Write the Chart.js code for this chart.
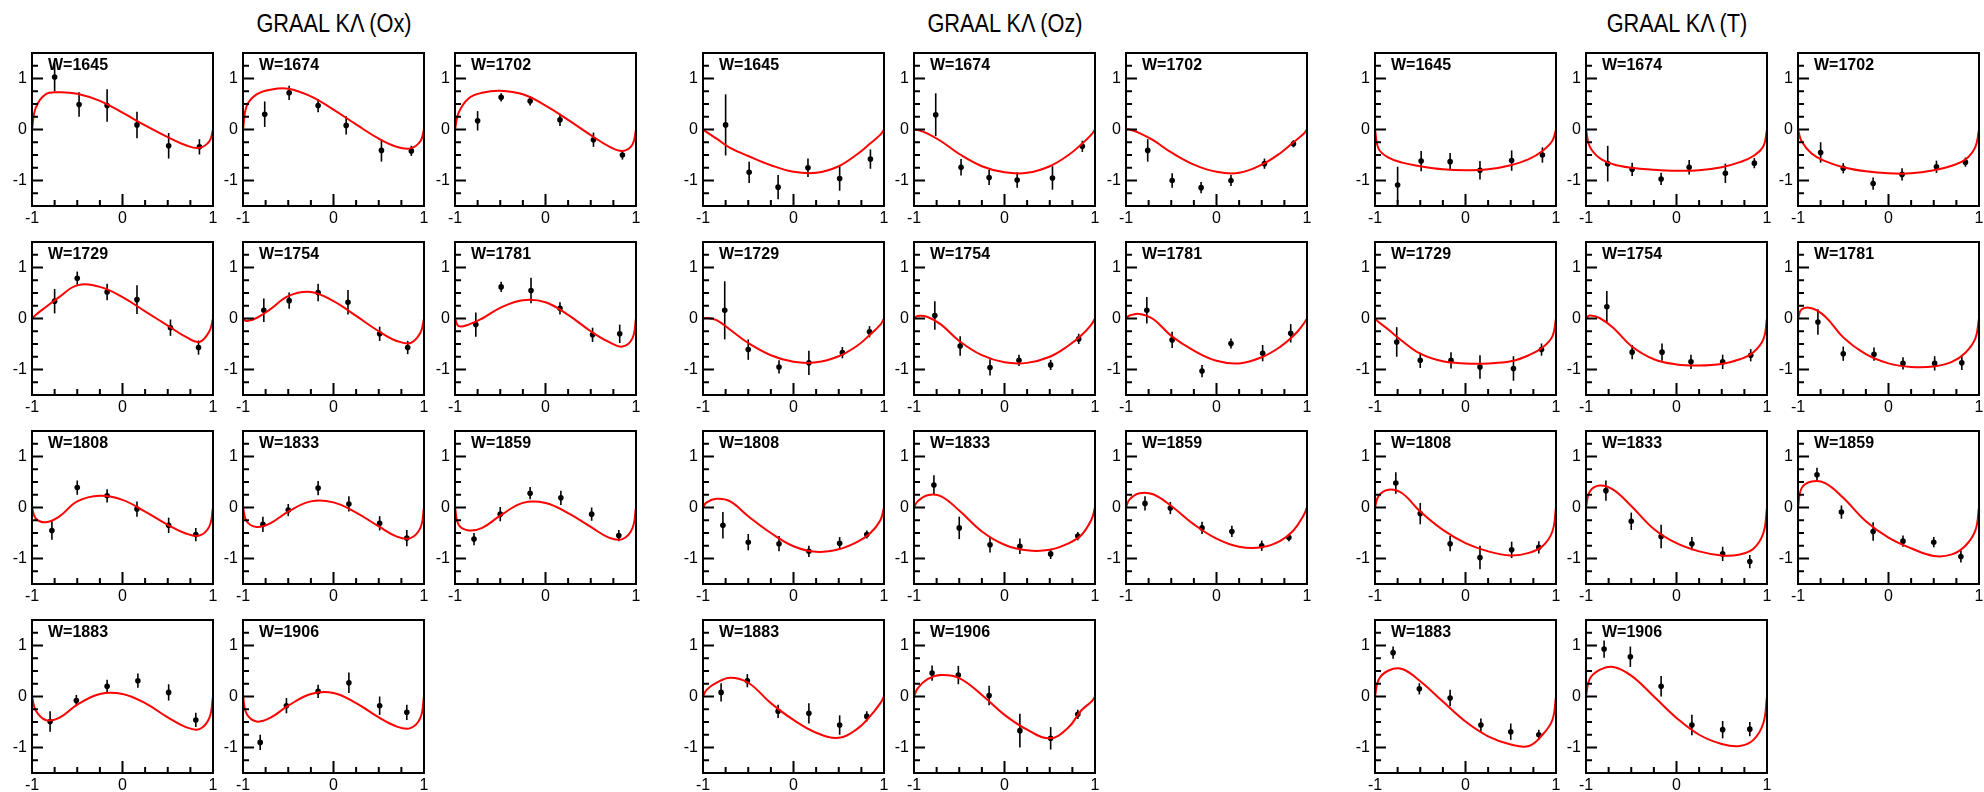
<!DOCTYPE html>
<html>
<head>
<meta charset="utf-8">
<script src="https://cdn.jsdelivr.net/npm/chart.js@4.4.1/dist/chart.umd.min.js"></script>
<style>
  body { margin: 0; background: #fff; }
  #page { position: relative; width: 1984px; height: 792px; overflow: hidden; }
  .title { position: absolute; top: 11px; font: 25px "Liberation Sans", Arial, sans-serif; line-height: 25px;
           white-space: nowrap; color: #000; transform: translateX(-50%) scaleX(0.87); }
  canvas { position: absolute; }
</style>
</head>
<body>
<div id="page"></div>
<script>
const W_BINS = [1645, 1674, 1702, 1729, 1754, 1781, 1808, 1833, 1859, 1883, 1906];
const TITLES = ['GRAAL K\u039B (Ox)', 'GRAAL K\u039B (Oz)', 'GRAAL K\u039B (T)'];
const X_TICKS = [-1, 0, 1];
const Y_TICKS = [-1, 0, 1];
const FIT_X = [-1, -0.96, -0.85, -0.7, -0.5, -0.25, 0, 0.25, 0.5, 0.7, 0.85, 0.96, 1];

// ---- Ox ----
const OX_X = [
  [-0.75, -0.48, -0.17, 0.16, 0.51, 0.85],
  [-0.76, -0.49, -0.17, 0.14, 0.53, 0.86],
  [-0.75, -0.49, -0.17, 0.16, 0.53, 0.85],
  [-0.75, -0.50, -0.17, 0.16, 0.53, 0.84],
  [-0.77, -0.49, -0.17, 0.16, 0.51, 0.82],
  [-0.77, -0.49, -0.16, 0.16, 0.52, 0.82],
  [-0.78, -0.50, -0.17, 0.16, 0.51, 0.81],
  [-0.78, -0.50, -0.17, 0.17, 0.51, 0.81],
  [-0.79, -0.50, -0.17, 0.17, 0.51, 0.81],
  [-0.80, -0.51, -0.17, 0.17, 0.51, 0.81],
  [-0.81, -0.52, -0.17, 0.17, 0.51, 0.81]
];
const OX_Y = [
  [1.03, 0.49, 0.47, 0.09, -0.32, -0.34],
  [0.30, 0.72, 0.47, 0.08, -0.41, -0.42],
  [0.17, 0.63, 0.56, 0.19, -0.20, -0.50],
  [0.34, 0.79, 0.52, 0.37, -0.18, -0.57],
  [0.16, 0.35, 0.51, 0.32, -0.30, -0.57],
  [-0.12, 0.62, 0.55, 0.20, -0.32, -0.30],
  [-0.45, 0.39, 0.23, -0.03, -0.35, -0.53],
  [-0.33, -0.05, 0.38, 0.07, -0.31, -0.60],
  [-0.62, -0.13, 0.28, 0.19, -0.13, -0.55],
  [-0.49, -0.08, 0.20, 0.31, 0.08, -0.46],
  [-0.90, -0.18, 0.10, 0.27, -0.18, -0.31]
];
const OX_ERR = [
  [0.28, 0.24, 0.32, 0.26, 0.25, 0.15],
  [0.25, 0.14, 0.13, 0.18, 0.22, 0.10],
  [0.19, 0.08, 0.09, 0.12, 0.14, 0.09],
  [0.24, 0.13, 0.16, 0.28, 0.16, 0.14],
  [0.23, 0.16, 0.17, 0.24, 0.14, 0.13],
  [0.24, 0.10, 0.25, 0.12, 0.14, 0.18],
  [0.18, 0.14, 0.13, 0.15, 0.15, 0.13],
  [0.15, 0.12, 0.14, 0.15, 0.14, 0.16],
  [0.12, 0.14, 0.12, 0.14, 0.13, 0.11],
  [0.20, 0.11, 0.13, 0.14, 0.16, 0.14],
  [0.15, 0.15, 0.13, 0.20, 0.18, 0.15]
];
const OX_FIT = [
  [0, 0.42, 0.69, 0.73, 0.70, 0.56, 0.33, 0.08, -0.15, -0.31, -0.36, -0.23, 0],
  [0, 0.46, 0.69, 0.78, 0.80, 0.65, 0.39, 0.10, -0.18, -0.34, -0.37, -0.23, 0],
  [0, 0.33, 0.61, 0.72, 0.76, 0.69, 0.47, 0.19, -0.11, -0.33, -0.42, -0.30, 0],
  [0, 0.07, 0.22, 0.42, 0.65, 0.62, 0.42, 0.14, -0.14, -0.36, -0.46, -0.25, 0],
  [0, -0.05, 0.01, 0.18, 0.44, 0.52, 0.34, 0.05, -0.25, -0.44, -0.48, -0.28, 0],
  [0, -0.15, -0.12, 0, 0.21, 0.36, 0.32, 0.07, -0.25, -0.46, -0.55, -0.39, 0],
  [0, -0.21, -0.29, -0.18, 0.12, 0.23, 0.15, -0.08, -0.34, -0.51, -0.55, -0.37, 0],
  [0, -0.27, -0.38, -0.31, -0.08, 0.12, 0.10, -0.10, -0.37, -0.57, -0.60, -0.40, 0],
  [0, -0.34, -0.45, -0.40, -0.16, 0.09, 0.09, -0.11, -0.38, -0.59, -0.62, -0.41, 0],
  [0, -0.27, -0.46, -0.42, -0.16, 0.05, 0.05, -0.13, -0.41, -0.60, -0.64, -0.42, 0],
  [0, -0.34, -0.49, -0.42, -0.18, 0.05, 0.07, -0.13, -0.41, -0.59, -0.62, -0.42, 0]
];

// ---- Oz ----
const OZ_X = [
  [-0.75, -0.49, -0.17, 0.16, 0.51, 0.85],
  [-0.76, -0.48, -0.17, 0.14, 0.53, 0.86],
  [-0.76, -0.49, -0.17, 0.16, 0.53, 0.85],
  [-0.76, -0.50, -0.16, 0.17, 0.54, 0.84],
  [-0.77, -0.49, -0.16, 0.16, 0.51, 0.82],
  [-0.77, -0.49, -0.16, 0.16, 0.51, 0.82],
  [-0.78, -0.50, -0.16, 0.17, 0.51, 0.81],
  [-0.78, -0.50, -0.16, 0.17, 0.51, 0.81],
  [-0.79, -0.51, -0.16, 0.17, 0.50, 0.80],
  [-0.80, -0.51, -0.17, 0.17, 0.51, 0.81],
  [-0.80, -0.51, -0.17, 0.17, 0.51, 0.81]
];
const OZ_Y = [
  [0.09, -0.84, -1.13, -0.75, -0.96, -0.58],
  [0.29, -0.74, -0.94, -0.99, -0.95, -0.33],
  [-0.41, -1.00, -1.14, -1.00, -0.67, -0.28],
  [0.16, -0.61, -0.95, -0.87, -0.67, -0.26],
  [0.06, -0.54, -0.96, -0.82, -0.91, -0.40],
  [0.16, -0.42, -1.03, -0.49, -0.68, -0.29],
  [-0.35, -0.68, -0.71, -0.86, -0.70, -0.53],
  [0.44, -0.40, -0.73, -0.76, -0.91, -0.56],
  [0.08, -0.01, -0.40, -0.47, -0.75, -0.59],
  [0.08, 0.31, -0.29, -0.33, -0.56, -0.39],
  [0.46, 0.42, 0.02, -0.67, -0.82, -0.35]
];
const OZ_ERR = [
  [0.60, 0.21, 0.24, 0.18, 0.24, 0.19],
  [0.42, 0.16, 0.15, 0.15, 0.23, 0.11],
  [0.22, 0.14, 0.11, 0.11, 0.10, 0.07],
  [0.57, 0.20, 0.13, 0.24, 0.11, 0.11],
  [0.28, 0.19, 0.16, 0.11, 0.10, 0.10],
  [0.26, 0.16, 0.12, 0.10, 0.16, 0.18],
  [0.26, 0.16, 0.15, 0.11, 0.12, 0.08],
  [0.19, 0.22, 0.15, 0.15, 0.10, 0.08],
  [0.14, 0.12, 0.12, 0.11, 0.10, 0.07],
  [0.18, 0.13, 0.13, 0.20, 0.19, 0.10],
  [0.15, 0.18, 0.19, 0.33, 0.22, 0.09]
];
const OZ_FIT = [
  [0, -0.05, -0.18, -0.36, -0.52, -0.70, -0.83, -0.85, -0.72, -0.49, -0.27, -0.10, 0],
  [0, -0.01, -0.08, -0.23, -0.48, -0.72, -0.84, -0.85, -0.72, -0.51, -0.29, -0.10, 0],
  [0, 0, -0.07, -0.21, -0.45, -0.69, -0.83, -0.85, -0.69, -0.47, -0.25, -0.09, 0],
  [0, 0.01, -0.03, -0.22, -0.48, -0.72, -0.85, -0.86, -0.74, -0.54, -0.31, -0.12, 0],
  [0, 0.05, 0.03, -0.12, -0.44, -0.72, -0.86, -0.87, -0.75, -0.54, -0.33, -0.12, 0],
  [0, 0.06, 0.09, -0.01, -0.34, -0.63, -0.83, -0.88, -0.76, -0.56, -0.34, -0.11, 0],
  [0, 0.10, 0.17, 0.12, -0.17, -0.50, -0.76, -0.87, -0.82, -0.68, -0.50, -0.25, 0],
  [0, 0.12, 0.24, 0.22, -0.06, -0.47, -0.73, -0.84, -0.83, -0.71, -0.54, -0.24, 0],
  [0, 0.16, 0.28, 0.26, 0.03, -0.33, -0.61, -0.77, -0.78, -0.66, -0.45, -0.16, 0],
  [0, 0.13, 0.27, 0.37, 0.27, -0.13, -0.46, -0.71, -0.81, -0.64, -0.38, -0.13, 0],
  [0, 0.16, 0.34, 0.42, 0.36, 0.03, -0.36, -0.65, -0.82, -0.62, -0.27, -0.10, 0]
];

// ---- T ----
const T_X = [
  [-0.75, -0.49, -0.17, 0.16, 0.51, 0.85],
  [-0.76, -0.49, -0.17, 0.14, 0.54, 0.86],
  [-0.75, -0.50, -0.17, 0.15, 0.53, 0.85],
  [-0.76, -0.50, -0.16, 0.16, 0.53, 0.84],
  [-0.77, -0.49, -0.16, 0.16, 0.51, 0.82],
  [-0.78, -0.50, -0.16, 0.16, 0.51, 0.81],
  [-0.77, -0.50, -0.17, 0.16, 0.51, 0.81],
  [-0.78, -0.50, -0.17, 0.17, 0.51, 0.81],
  [-0.79, -0.52, -0.17, 0.16, 0.50, 0.80],
  [-0.80, -0.51, -0.17, 0.17, 0.50, 0.81],
  [-0.80, -0.51, -0.17, 0.17, 0.51, 0.81]
];
const T_Y = [
  [-1.09, -0.62, -0.63, -0.80, -0.61, -0.50],
  [-0.67, -0.78, -0.97, -0.74, -0.86, -0.66],
  [-0.45, -0.76, -1.06, -0.88, -0.73, -0.64],
  [-0.46, -0.82, -0.82, -0.95, -0.98, -0.61],
  [0.23, -0.66, -0.66, -0.85, -0.85, -0.72],
  [-0.07, -0.69, -0.70, -0.88, -0.88, -0.87],
  [0.48, -0.12, -0.71, -0.98, -0.83, -0.78],
  [0.33, -0.27, -0.57, -0.71, -0.91, -1.06],
  [0.64, -0.09, -0.47, -0.66, -0.68, -0.96],
  [0.86, 0.15, -0.03, -0.56, -0.69, -0.75],
  [0.93, 0.78, 0.20, -0.56, -0.65, -0.64]
];
const T_ERR = [
  [0.36, 0.20, 0.17, 0.18, 0.20, 0.15],
  [0.35, 0.13, 0.12, 0.14, 0.19, 0.10],
  [0.20, 0.10, 0.12, 0.12, 0.12, 0.09],
  [0.29, 0.15, 0.16, 0.23, 0.24, 0.12],
  [0.31, 0.14, 0.17, 0.14, 0.14, 0.12],
  [0.25, 0.14, 0.13, 0.12, 0.14, 0.14],
  [0.21, 0.21, 0.15, 0.23, 0.16, 0.12],
  [0.20, 0.17, 0.23, 0.13, 0.14, 0.13],
  [0.14, 0.13, 0.18, 0.11, 0.10, 0.12],
  [0.12, 0.11, 0.16, 0.13, 0.16, 0.10],
  [0.17, 0.20, 0.20, 0.20, 0.17, 0.14]
];
const T_FIT = [
  [0, -0.38, -0.55, -0.65, -0.72, -0.78, -0.80, -0.78, -0.70, -0.58, -0.42, -0.22, 0],
  [0, -0.33, -0.56, -0.68, -0.75, -0.79, -0.81, -0.80, -0.74, -0.64, -0.52, -0.33, 0],
  [0, -0.23, -0.47, -0.62, -0.74, -0.82, -0.86, -0.86, -0.80, -0.71, -0.59, -0.34, 0],
  [0, -0.07, -0.22, -0.44, -0.69, -0.84, -0.88, -0.88, -0.84, -0.72, -0.57, -0.35, 0],
  [0, 0.06, 0.01, -0.18, -0.54, -0.80, -0.90, -0.92, -0.89, -0.80, -0.66, -0.41, 0],
  [0, 0.18, 0.20, 0.04, -0.37, -0.70, -0.88, -0.95, -0.94, -0.85, -0.67, -0.39, 0],
  [0, 0.23, 0.35, 0.28, -0.08, -0.44, -0.70, -0.86, -0.94, -0.89, -0.76, -0.47, 0],
  [0, 0.31, 0.43, 0.35, 0.03, -0.42, -0.70, -0.86, -0.94, -0.92, -0.81, -0.50, 0],
  [0, 0.38, 0.51, 0.48, 0.19, -0.27, -0.59, -0.80, -0.95, -0.92, -0.75, -0.45, 0],
  [0, 0.33, 0.51, 0.54, 0.30, -0.10, -0.49, -0.78, -0.94, -0.97, -0.75, -0.46, 0],
  [0, 0.34, 0.52, 0.58, 0.41, 0, -0.42, -0.75, -0.93, -0.97, -0.85, -0.52, 0]
];

// layout of the grid of small frames
const GROUP_LEFT = [32, 703, 1375];
const COL_OFFSET = [0, 211, 423];
const ROW_TOP = [53, 242, 431, 620];
const FRAME_W = 181, FRAME_H = 153;
const PAD_L = 30, PAD_T = 16, PAD_R = 12, PAD_B = 24;
const FONT = '"Liberation Sans", Arial, Helvetica, sans-serif';

const panelFrame = {
  id: 'panelFrame',
  beforeDatasetsDraw(chart) {
    const { ctx, chartArea: a, scales: { x, y } } = chart;
    ctx.save();
    ctx.beginPath();
    ctx.rect(a.left, a.top, a.width, a.height);
    ctx.clip();
    ctx.strokeStyle = '#000';
    ctx.lineWidth = 1.6;
    chart.data.datasets[1].data.forEach(p => {
      const px = x.getPixelForValue(p.x);
      ctx.beginPath();
      ctx.moveTo(px, y.getPixelForValue(p.y - p.err));
      ctx.lineTo(px, y.getPixelForValue(p.y + p.err));
      ctx.stroke();
    });
    ctx.restore();
  },
  afterDraw(chart, args, opts) {
    const { ctx, chartArea: a, scales: { x, y } } = chart;
    ctx.save();
    ctx.strokeStyle = '#000';
    ctx.lineWidth = 2;
    ctx.strokeRect(a.left, a.top, a.width, a.height);
    // ticks point inwards, like the ROOT frame
    ctx.beginPath();
    for (let v = -1.25; v <= 1.25; v += 0.25) {
      const py = y.getPixelForValue(v);
      ctx.moveTo(a.left, py);
      ctx.lineTo(a.left + (Number.isInteger(v) ? 11 : 6), py);
    }
    for (let v = -0.75; v <= 0.75; v += 0.25) {
      const px = x.getPixelForValue(v);
      ctx.moveTo(px, a.bottom);
      ctx.lineTo(px, a.bottom - (v === 0 ? 12 : 6));
    }
    ctx.stroke();
    ctx.fillStyle = '#000';
    ctx.font = 'bold 16px ' + FONT;
    ctx.textBaseline = 'alphabetic';
    ctx.fillText(opts.label, a.left + 16, a.top + 17);
    ctx.restore();
  }
};

const page = document.getElementById('page');
const groups = [
  { xs: OX_X, ys: OX_Y, errs: OX_ERR, fit: OX_FIT },
  { xs: OZ_X, ys: OZ_Y, errs: OZ_ERR, fit: OZ_FIT },
  { xs: T_X, ys: T_Y, errs: T_ERR, fit: T_FIT }
];

groups.forEach((g, gi) => {
  const t = document.createElement('div');
  t.className = 'title';
  t.textContent = TITLES[gi];
  t.style.left = (GROUP_LEFT[gi] + COL_OFFSET[1] + FRAME_W / 2) + 'px';
  page.appendChild(t);

  W_BINS.forEach((w, i) => {
    const fx = GROUP_LEFT[gi] + COL_OFFSET[i % 3];
    const fy = ROW_TOP[Math.floor(i / 3)];
    const cv = document.createElement('canvas');
    const cw = PAD_L + FRAME_W + PAD_R, ch = PAD_T + FRAME_H + PAD_B;
    cv.width = cw; cv.height = ch;
    cv.style.width = cw + 'px'; cv.style.height = ch + 'px';
    cv.style.left = (fx - PAD_L) + 'px';
    cv.style.top = (fy - PAD_T) + 'px';
    page.appendChild(cv);

    new Chart(cv, {
      type: 'scatter',
      data: {
        datasets: [
          {
            data: FIT_X.map((x, k) => ({ x, y: g.fit[i][k] })),
            showLine: true,
            borderColor: '#ff0000',
            borderWidth: 2,
            pointRadius: 0,
            tension: 0.4
          },
          {
            data: g.xs[i].map((x, k) => ({ x, y: g.ys[i][k], err: g.errs[i][k] })),
            pointRadius: 2.8,
            pointBackgroundColor: '#000',
            pointBorderColor: '#000',
            pointBorderWidth: 0
          }
        ]
      },
      options: {
        responsive: false,
        animation: false,
        devicePixelRatio: 1,
        events: [],
        layout: { padding: { left: 0, top: PAD_T, right: PAD_R, bottom: 0 } },
        plugins: {
          legend: { display: false },
          tooltip: { enabled: false },
          panelFrame: { label: 'W=' + w }
        },
        scales: {
          x: {
            type: 'linear', min: -1, max: 1,
            afterBuildTicks: s => { s.ticks = X_TICKS.map(v => ({ value: v })); },
            afterFit: s => { s.height = PAD_B; },
            grid: { display: false, drawTicks: false },
            border: { display: false },
            ticks: { color: '#000', font: { family: FONT, size: 16 }, padding: 3, maxRotation: 0, autoSkip: false }
          },
          y: {
            type: 'linear', min: -1.5, max: 1.5,
            afterBuildTicks: s => { s.ticks = Y_TICKS.map(v => ({ value: v })); },
            afterFit: s => { s.width = PAD_L; },
            grid: { display: false, drawTicks: false },
            border: { display: false },
            ticks: { color: '#000', font: { family: FONT, size: 16 }, padding: 5 }
          }
        }
      },
      plugins: [panelFrame]
    });
  });
});
</script>
</body>
</html>
